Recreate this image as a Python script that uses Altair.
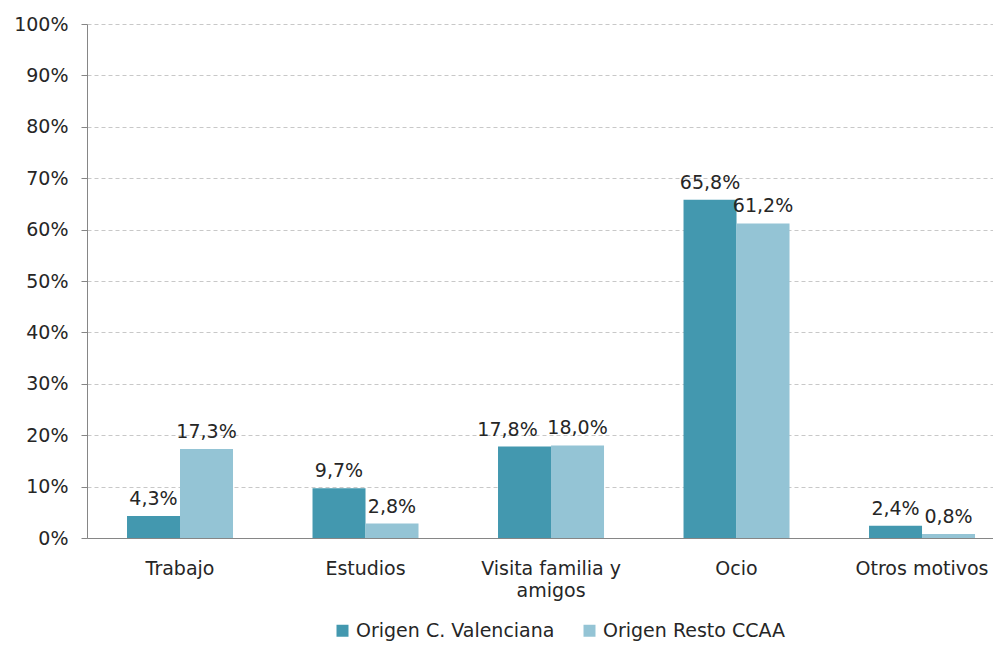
import altair as alt
import pandas as pd

categories = ["Trabajo", "Estudios", "Visita familia y amigos", "Ocio", "Otros motivos"]
series = ["Origen C. Valenciana", "Origen Resto CCAA"]
valencia = [4.3, 9.7, 17.8, 65.8, 2.4]
resto = [17.3, 2.8, 18.0, 61.2, 0.8]
y_ticks = [0, 10, 20, 30, 40, 50, 60, 70, 80, 90, 100]

rows = []
for c, a, b in zip(categories, valencia, resto):
    rows.append({"cat": c, "serie": series[0], "value": a})
    rows.append({"cat": c, "serie": series[1], "value": b})
df = pd.DataFrame(rows)

FONT = "DejaVu Sans"
TXT = "#262626"

base = alt.Chart(df).transform_calculate(
    label="replace(format(datum.value, '.1f'), '.', ',') + '%'"
).encode(
    x=alt.X("cat:N", sort=categories, title=None,
            scale=alt.Scale(paddingInner=0.4286, paddingOuter=0.1563, align=0.69),
            axis=alt.Axis(labelAngle=0, ticks=False, labelPadding=21,
                          labelExpr="datum.label == 'Visita familia y amigos' ? ['Visita familia y', 'amigos'] : datum.label",
                          labelLineHeight=22, domainColor="#868686", grid=False)),
    xOffset=alt.XOffset("serie:N", sort=series,
                        scale=alt.Scale(paddingInner=0, paddingOuter=0)),
    y=alt.Y("value:Q", title=None,
            scale=alt.Scale(domain=[0, 100], nice=False),
            axis=alt.Axis(values=y_ticks, labelExpr="datum.value + '%'",
                          tickSize=6, labelPadding=13, tickColor="#868686",
                          domainColor="#868686", gridColor="#C8C8C8",
                          gridDash=[4, 3])),
)

bars = base.mark_bar().encode(
    color=alt.Color("serie:N", sort=series, title=None,
                    scale=alt.Scale(domain=series, range=["#4398AF", "#94C4D5"]),
                    legend=alt.Legend(orient="none", legendX=246, legendY=597,
                                      direction="horizontal", symbolType="square",
                                      symbolSize=144, symbolStrokeWidth=0,
                                      labelFontSize=19, labelFont=FONT,
                                      labelColor=TXT, labelOffset=4,
                                      labelLimit=0, columnPadding=25))
)

crowded = f"datum.cat == 'Visita familia y amigos' && datum.serie == '{series[0]}'"

text = base.mark_text(baseline="alphabetic", dy=-11, fontSize=19, font=FONT,
                      color=TXT).encode(text="label:N").transform_filter(
    f"!({crowded})")

text_nudged = base.mark_text(baseline="alphabetic", dy=-11, dx=-17, fontSize=19,
                             font=FONT, color=TXT).encode(
    text="label:N").transform_filter(crowded)

chart = alt.layer(bars, text, text_nudged).properties(
    width=906, height=514,
    autosize="none",
    padding={"left": 79, "top": 16, "right": 0, "bottom": 104},
).configure_view(stroke=None).configure_axis(
    labelFont=FONT, labelFontSize=19, labelColor=TXT,
).configure_axisY(domain=True)

chart.save("out.html", embed_options={"renderer": "svg", "actions": False})
